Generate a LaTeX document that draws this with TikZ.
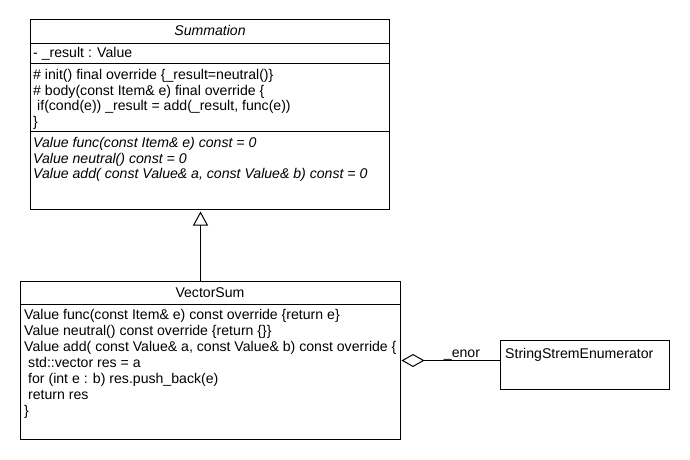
\documentclass[tikz,border=0pt]{standalone}
\usepackage{fontspec}
\setmainfont{Liberation Sans}
\usetikzlibrary{arrows.meta}
\begin{document}
\begin{tikzpicture}[x=1pt,y=-1pt,
  box/.style={draw, line width=1pt, inner sep=0pt, outer sep=0pt, anchor=north west, fill=white},
  sepline/.style={line width=1pt},
  txt/.style={anchor=base west, inner sep=0pt, font=\fontsize{14.1}{16}\selectfont},
  ctxt/.style={anchor=base, inner sep=0pt, font=\fontsize{14.1}{16}\selectfont},
  itxt/.style={txt, font=\fontsize{14.1}{16}\selectfont\itshape},
  inherit/.style={line width=1pt, -{Triangle[open, length=14pt, width=15pt, fill=white]}, shorten >=2pt},
  aggr/.style={line width=1pt, -{Diamond[open, length=23pt, width=13pt, fill=white]}, shorten >=1pt}]
\useasboundingbox (0,0) rectangle (690,460);
% Summation
\node[box, minimum width=359pt, minimum height=190pt] (sum) at (30.5,19.5) {};
\draw[sepline] (sum.west |- 0,43.5) -- (sum.east |- 0,43.5);
\draw[sepline] (sum.west |- 0,63.5) -- (sum.east |- 0,63.5);
\draw[sepline] (sum.west |- 0,131.5) -- (sum.east |- 0,131.5);
\node[ctxt, font=\fontsize{14.1}{16}\selectfont\itshape] (sumtitle) at (210,36) {Summation};
\node[txt] (s1) at (33,58) {- \_result : Value};
\node[txt] (s2) at (33,79) {\# init() final override \{\_result=neutral()\}};
\node[txt] (s3) at (33,95) {\# body(const Item\& e) final override \{};
\node[txt] (s4) at (37,110.5) {if(cond(e)) \_result = add(\_result, func(e))};
\node[txt] (s5) at (33,126) {\}};
\node[itxt] (s6) at (33,147) {Value func(const Item\& e) const = 0};
\node[itxt] (s7) at (33,163) {Value neutral() const = 0};
\node[itxt] (s8) at (33,178.5) {Value add( const Value\& a, const Value\& b) const = 0};
% VectorSum
\node[box, minimum width=380pt, minimum height=158pt] (vs) at (20.5,281.5) {};
\draw[sepline] (vs.west |- 0,304.5) -- (vs.east |- 0,304.5);
\node[ctxt] (vstitle) at (210,297.5) {VectorSum};
\node[txt] (v1) at (24,319) {Value func(const Item\& e) const override \{return e\}};
\node[txt] (v2) at (24,335) {Value neutral() const override \{return \{\}\}};
\node[txt] (v3) at (24,351) {Value add( const Value\& a, const Value\& b) const override \{};
\node[txt] (v4) at (28,367) {std::vector res = a};
\node[txt] (v5) at (28,383) {for (int e : b) res.push\_back(e)};
\node[txt] (v6) at (28,399) {return res};
\node[txt] (v7) at (24,415) {\}};
% StringStremEnumerator
\node[box, minimum width=169pt, minimum height=49pt] (ss) at (500.5,340.5) {};
\node[txt] (sstxt) at (505,358) {StringStremEnumerator};
% connectors
\draw[inherit] ([xshift=-10pt]vs.north) -- ([xshift=-10pt]vs.north |- sum.south);
\draw[aggr] (vs.east -| ss.west) -- (vs.east);
\node[ctxt] (enor) at (462,357) {\_enor};
\end{tikzpicture}
\end{document}
